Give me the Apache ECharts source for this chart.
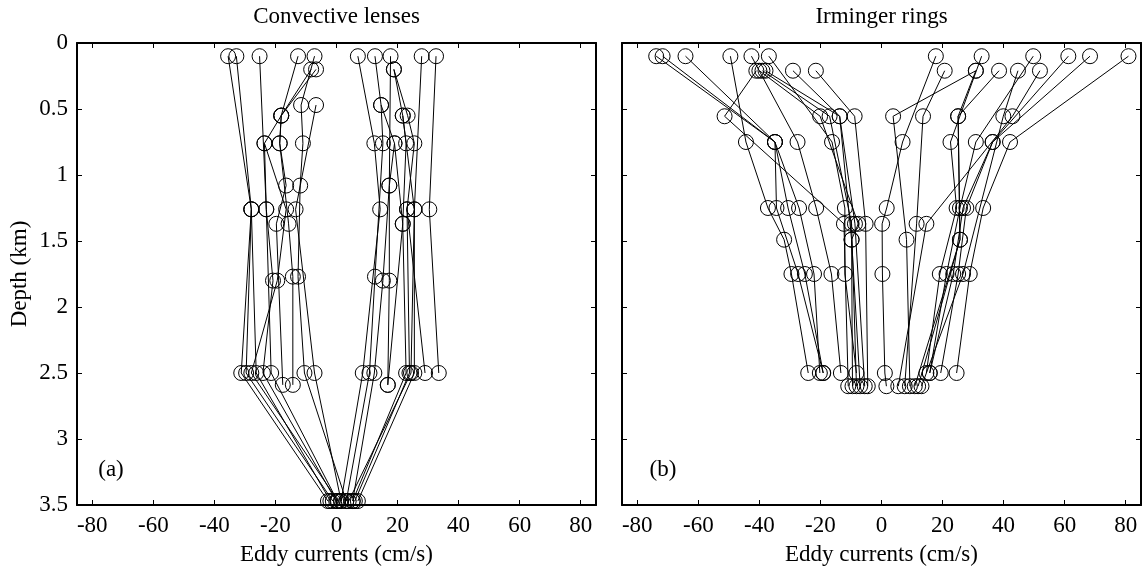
<!DOCTYPE html>
<html>
<head>
<meta charset="utf-8">
<title>Eddy current profiles</title>
<script src="https://cdn.jsdelivr.net/npm/echarts@6/dist/echarts.min.js"></script>
<style>
  html, body { margin: 0; padding: 0; background: #fff; }
  #chart { width: 1145px; height: 575px; }
</style>
</head>
<body>
<div id="chart"></div>
<script>
// Tick positions shared by both panels
const xTicks = [-80, -60, -40, -20, 0, 20, 40, 60, 80];
const panelTitles = ['Convective lenses', 'Irminger rings'];
const panelTags = ['(a)', '(b)'];
const tagX = [111, 663];

// Convective lenses: instrument depth (km) and eddy current (cm/s), one row per profile
const lensDepth = [
  [0.1, 1.26, 2.5, 3.47],
  [0.1, 1.26, 2.5, 3.47],
  [0.1, 1.26, 1.80, 2.5, 3.47],
  [0.1, 0.55, 0.76, 1.26, 1.80, 2.5, 3.47],
  [0.1, 0.47, 0.76, 1.08, 1.77, 2.5, 3.47],
  [0.2, 0.55, 0.76, 1.37, 1.77, 2.59],
  [0.2, 0.55, 0.76, 1.08, 1.37, 2.59],
  [0.47, 1.26, 2.5, 3.47],
  [1.26, 2.5, 3.47],
  [0.76, 1.26, 2.5, 3.47],
  [0.1, 0.76, 1.26, 2.5, 3.47],
  [0.1, 0.47, 0.76, 1.77, 2.5, 3.47],
  [0.1, 1.08, 1.80, 2.5, 3.47],
  [0.1, 1.26, 2.5, 3.47],
  [0.1, 1.26, 2.5],
  [0.2, 0.55, 0.76, 1.37, 2.5, 3.47],
  [0.2, 0.55, 0.76, 1.26, 2.5],
  [0.47, 0.76, 1.08, 1.80, 2.59],
  [0.76, 1.37, 2.59],
  [1.26, 2.5, 3.47],
  [0.55, 1.26, 2.5, 3.47]
];
const lensSpeed = [
  [-35.5, -27.9, -31.2, -2.8],
  [-32.8, -27.9, -29.6, -1.2],
  [-25.2, -23.0, -20.8, -24.1, -0.1],
  [-12.6, -18.1, -23.6, -16.5, -19.4, -27.9, 0.5],
  [-7.2, -11.6, -11.0, -11.9, -12.6, -10.5, 3.2],
  [-8.3, -18.1, -18.6, -15.7, -14.3, -14.3],
  [-6.7, -18.1, -18.6, -16.5, -19.7, -17.6],
  [-6.7, -13.4, -7.2, 1.5],
  [-27.9, -26.3, -2.0],
  [-23.6, -23.0, -21.4, 0.3],
  [7.0, 12.4, 14.3, 8.6, 1.5],
  [12.6, 14.6, 15.2, 12.6, 10.8, 3.2],
  [17.7, 17.3, 15.2, 12.4, 5.3],
  [27.9, 25.5, 25.5, 7.0],
  [32.6, 30.4, 33.5],
  [18.8, 21.7, 22.8, 21.7, 22.8, 5.3],
  [18.8, 23.3, 25.5, 23.1, 29.0],
  [14.6, 19.0, 17.3, 17.3, 16.8],
  [19.0, 21.7, 16.8],
  [23.1, 23.9, 6.0],
  [21.7, 25.5, 24.4, 4.0]
];

// Irminger rings: instrument depth (km) and eddy current (cm/s), one row per profile
const ringDepth = [
  [0.1, 0.75, 1.25, 1.75, 2.5],
  [0.1, 0.75, 1.25, 1.75, 2.5],
  [0.1, 0.75, 1.25, 1.75, 2.5],
  [0.1, 0.75, 1.25, 1.49, 1.75, 2.5],
  [0.1, 0.75, 1.25, 1.75, 2.5],
  [0.1, 0.75, 1.25, 1.75, 2.5],
  [0.21, 0.555, 1.37, 2.6],
  [0.21, 0.555, 1.37, 1.49, 2.6],
  [0.21, 0.555, 1.37, 2.6],
  [0.21, 0.555, 1.49, 2.6],
  [0.21, 0.555, 1.37, 2.6],
  [0.21, 0.555, 1.37, 2.6],
  [0.1, 0.75, 1.25, 1.37, 1.75, 2.5, 2.6],
  [0.1, 0.75, 1.25, 1.75, 2.5],
  [0.1, 0.75, 1.25, 1.75, 2.5],
  [0.1, 0.75, 1.25, 1.75, 2.5],
  [0.1, 0.75, 1.25, 1.75, 2.5],
  [0.1, 0.75, 1.25, 1.75, 2.5],
  [0.21, 0.555, 1.37, 2.6],
  [0.21, 0.555, 1.49, 2.6],
  [0.21, 0.555, 1.49, 2.6],
  [0.21, 0.555, 1.49, 2.6],
  [0.21, 0.555, 1.75, 2.6],
  [0.21, 0.555, 1.37, 2.6]
];
const ringSpeed = [
  [-73.8, -34.9, -34.4, -27.3, -19.1],
  [-71.7, -34.9, -30.6, -25.1, -19.1],
  [-64.2, -34.9, -27.0, -22.1, -20.2],
  [-49.5, -44.4, -37.2, -31.9, -29.5, -24.0],
  [-42.6, -27.5, -21.4, -16.4, -13.3],
  [-36.9, -16.2, -12.0, -12.0, -8.2],
  [-41.0, -51.4, -12.3, -10.9],
  [-40.0, -20.1, -7.6, -9.8, -9.5],
  [-39.0, -17.0, -9.8, -8.2],
  [-38.0, -13.7, -9.8, -7.0],
  [-29.0, -13.7, -8.7, -5.5],
  [-21.5, -8.8, -5.2, -4.5],
  [17.8, 6.9, 1.7, 0.2, 0.3, 1.1, 1.6],
  [32.8, 22.6, 24.6, 19.1, 14.7],
  [49.7, 30.9, 25.7, 21.3, 15.8],
  [61.2, 36.4, 26.7, 23.5, 15.8],
  [68.3, 36.4, 27.8, 25.1, 19.4],
  [80.9, 42.1, 33.3, 28.9, 24.6],
  [20.7, 13.6, 11.5, 7.6],
  [30.9, 3.8, 8.2, 9.3],
  [30.9, 25.1, 25.7, 12.0],
  [38.5, 25.1, 25.7, 10.9],
  [44.7, 39.9, 26.7, 13.1],
  [51.9, 42.9, 14.7, 5.5]
];

const FONT = 'Liberation Serif';
const FS = 23;
const BLACK = '#000';

const grids = [
  { left: 77, top: 43, width: 519, height: 462 },
  { left: 622, top: 43, width: 519, height: 462 }
];

const lineAxis = { onZero: false, lineStyle: { color: BLACK, width: 2 } };
const tickIn = { inside: true, length: 5, lineStyle: { color: BLACK, width: 1 } };

const xAxes = [];
const yAxes = [];
grids.forEach((g, i) => {
  // bottom axis with labels
  xAxes.push({
    type: 'value', gridIndex: i, position: 'bottom', min: -85, max: 85,
    axisLine: lineAxis,
    axisTick: Object.assign({ customValues: xTicks }, tickIn),
    axisLabel: { customValues: xTicks, color: BLACK, fontFamily: FONT, fontSize: FS, margin: 9 },
    splitLine: { show: false },
    name: 'Eddy currents (cm/s)', nameLocation: 'middle', nameGap: 38,
    nameTextStyle: { color: BLACK, fontFamily: FONT, fontSize: FS }
  });
  // mirrored top axis, ticks only
  xAxes.push({
    type: 'value', gridIndex: i, position: 'top', min: -85, max: 85,
    axisLine: lineAxis,
    axisTick: Object.assign({ customValues: xTicks }, tickIn),
    axisLabel: { show: false }, splitLine: { show: false }
  });
  // left depth axis
  yAxes.push({
    type: 'value', gridIndex: i, position: 'left', inverse: true,
    min: 0, max: 3.5, interval: 0.5,
    axisLine: lineAxis, axisTick: tickIn,
    axisLabel: { show: i === 0, color: BLACK, fontFamily: FONT, fontSize: FS, margin: 9 },
    splitLine: { show: false },
    name: i === 0 ? 'Depth (km)' : '', nameLocation: 'middle', nameRotate: 90, nameGap: 46,
    nameTextStyle: { color: BLACK, fontFamily: FONT, fontSize: FS }
  });
  // mirrored right axis, ticks only
  yAxes.push({
    type: 'value', gridIndex: i, position: 'right', inverse: true,
    min: 0, max: 3.5, interval: 0.5,
    axisLine: lineAxis, axisTick: tickIn,
    axisLabel: { show: false }, splitLine: { show: false }
  });
});

function profileSeries(depths, speeds, panel) {
  return depths.map((d, k) => ({
    type: 'line',
    xAxisIndex: panel * 2,
    yAxisIndex: panel * 2,
    data: speeds[k].map((v, j) => [v, d[j]]),
    symbol: 'circle',
    symbolSize: 15,
    showSymbol: true,
    itemStyle: { color: 'rgba(0,0,0,0)', borderColor: BLACK, borderWidth: 1 },
    lineStyle: { color: BLACK, width: 1 },
    emphasis: { disabled: true },
    silent: true,
    z: 3
  }));
}

const series = [].concat(
  profileSeries(lensDepth, lensSpeed, 0),
  profileSeries(ringDepth, ringSpeed, 1)
);

const graphics = [];
grids.forEach((g, i) => {
  graphics.push({
    type: 'text', x: g.left + g.width / 2, y: 17,
    style: { text: panelTitles[i], fill: BLACK, font: FS + 'px "' + FONT + '"', align: 'center', verticalAlign: 'middle' }
  });
  graphics.push({
    type: 'text', x: tagX[i], y: 470,
    style: { text: panelTags[i], fill: BLACK, font: FS + 'px "' + FONT + '"', align: 'center', verticalAlign: 'middle' }
  });
});

const chart = echarts.init(document.getElementById('chart'), null, { renderer: 'canvas' });
chart.setOption({
  backgroundColor: '#fff',
  animation: false,
  grid: grids,
  xAxis: xAxes,
  yAxis: yAxes,
  series: series,
  graphic: graphics
});
</script>
</body>
</html>
